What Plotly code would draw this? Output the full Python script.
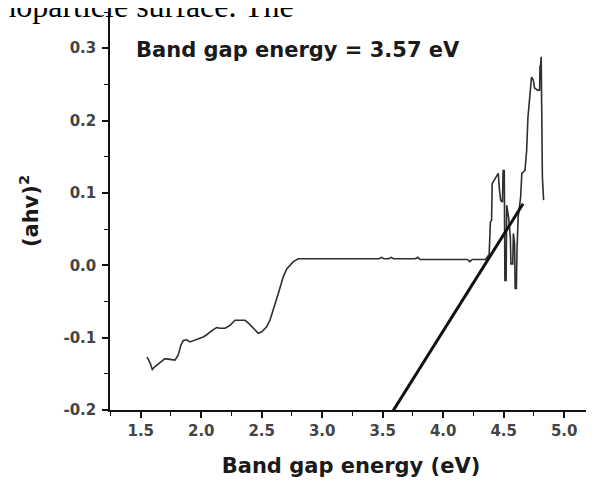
import plotly.graph_objects as go

# ---- data ----
energy = [1.55, 1.563, 1.58, 1.596, 1.618, 1.646, 1.70, 1.742, 1.783, 1.81, 1.833, 1.852, 1.88, 1.907,
          1.94, 1.976, 2.017, 2.045, 2.073, 2.10, 2.128, 2.155, 2.197, 2.238, 2.279, 2.32, 2.362, 2.39,
          2.417, 2.445, 2.472, 2.50, 2.541, 2.57, 2.596, 2.637, 2.678, 2.707, 2.761, 2.803,
          3.0, 3.3, 3.47, 3.49, 3.51, 3.55, 3.57, 3.59, 3.62, 3.77, 3.79, 3.81, 4.0, 4.2, 4.22, 4.24,
          4.30, 4.35, 4.38, 4.39, 4.40, 4.405, 4.43, 4.455, 4.465, 4.475, 4.49, 4.495, 4.505, 4.51,
          4.52, 4.525, 4.54, 4.555, 4.56, 4.575, 4.58, 4.59, 4.595, 4.605, 4.61, 4.62, 4.64, 4.65,
          4.676, 4.69, 4.70, 4.72, 4.73, 4.745, 4.755, 4.78, 4.797, 4.80, 4.805, 4.81, 4.815, 4.82, 4.83]
ahv2 = [-0.127, -0.130, -0.136, -0.144, -0.140, -0.136, -0.129, -0.130, -0.131, -0.124, -0.110, -0.104,
        -0.103, -0.106, -0.104, -0.101, -0.099, -0.096, -0.092, -0.089, -0.086, -0.087, -0.087, -0.083,
        -0.076, -0.076, -0.076, -0.080, -0.085, -0.090, -0.094, -0.092, -0.085, -0.075, -0.062, -0.039,
        -0.016, -0.005, 0.005, 0.009,
        0.009, 0.009, 0.009, 0.011, 0.009, 0.009, 0.011, 0.009, 0.009, 0.009, 0.011, 0.008, 0.008,
        0.008, 0.005, 0.008,
        0.008, 0.008, 0.015, 0.060, 0.062, 0.113, 0.120, 0.127, 0.104, 0.090, 0.087, 0.131, 0.131,
        -0.021, -0.021, 0.083, 0.067, 0.039, 0.002, 0.002, 0.044, 0.030, -0.032, -0.032, 0.021,
        0.067, 0.094, 0.127, 0.131, 0.159, 0.203, 0.242, 0.260, 0.256, 0.245, 0.242, 0.242, 0.275,
        0.275, 0.288, 0.205, 0.122, 0.090]

fit_x = [3.53, 4.66]
fit_y = [-0.216, 0.085]

x_ticks = [1.5, 2.0, 2.5, 3.0, 3.5, 4.0, 4.5, 5.0]
x_labels = ["1.5", "2.0", "2.5", "3.0", "3.5", "4.0", "4.5", "5.0"]
y_ticks = [-0.2, -0.1, 0.0, 0.1, 0.2, 0.3]
y_labels = ["-0.2", "-0.1", "0.0", "0.1", "0.2", "0.3"]

title_text = "Band gap energy = 3.57 eV"
x_title = "Band gap energy (eV)"
y_title = "(ahv)<sup>2</sup>"
doc_text = "nanoparticle surface. The"

tick_font = dict(family="DejaVu Sans", size=15, color="#444444", weight="bold")
label_font = dict(family="DejaVu Sans", size=21, color="#1a1a1a")

fig = go.Figure()
fig.add_trace(go.Scatter(x=energy, y=ahv2, mode="lines",
                         line=dict(color="#2e2e2e", width=1.6), showlegend=False))
fig.add_trace(go.Scatter(x=fit_x, y=fit_y, mode="lines",
                         line=dict(color="#111111", width=3), showlegend=False))

axis_common = dict(showgrid=False, zeroline=False, showline=True, linecolor="#111111", linewidth=1.5,
                   ticks="outside", ticklen=6, tickwidth=1.5, tickcolor="#111111", tickfont=tick_font,
                   automargin=False)

fig.update_xaxes(range=[1.246, 5.23], tickvals=x_ticks, ticktext=x_labels,
                 minor=dict(ticks="outside", ticklen=4, tickwidth=1.3, tickcolor="#111111",
                            dtick=0.25, tick0=1.25),
                 title=dict(text="<b>" + x_title + "</b>", font=label_font, standoff=20),
                 **axis_common)
fig.update_yaxes(range=[-0.2, 0.35], tickvals=y_ticks, ticktext=y_labels,
                 minor=dict(ticks="outside", ticklen=4, tickwidth=1.3, tickcolor="#111111",
                            dtick=0.05, tick0=-0.2),
                 title=dict(text="<b>" + y_title + "</b>", font=label_font, standoff=19),
                 ticklabelstandoff=3,
                 **axis_common)

fig.add_annotation(text="<b>" + title_text + "</b>", xref="paper", yref="paper",
                   x=0.05, y=0.9045, xanchor="left", yanchor="middle", showarrow=False,
                   font=dict(family="DejaVu Sans", size=21, color="#1a1a1a"))
fig.add_annotation(text=doc_text, xref="paper", yref="paper",
                   x=0.386, y=0.964, xanchor="right", yanchor="bottom", showarrow=False,
                   font=dict(family="Liberation Serif", size=32, color="#000000"))

# the page body has an 8 px default margin, so the figure is offset by 8 px
fig.update_layout(width=594, height=481, margin=dict(l=102, r=10, t=4, b=79),
                  paper_bgcolor="white", plot_bgcolor="white")
fig.write_html("out.html")
